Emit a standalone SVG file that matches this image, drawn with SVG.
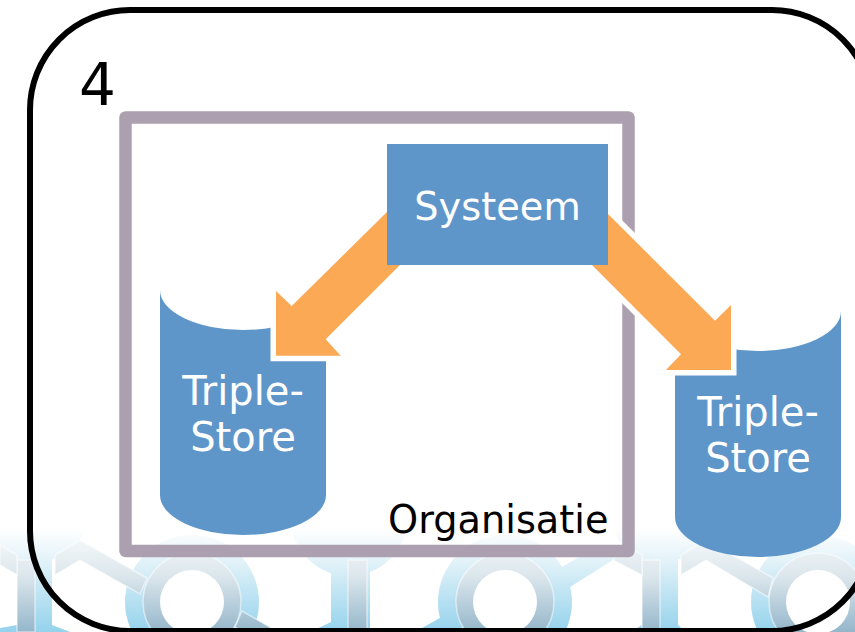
<svg xmlns="http://www.w3.org/2000/svg" width="855" height="632" viewBox="0 0 855 632">
<style>
.blue{fill:url(#gb)}
.grey{fill:url(#gg);stroke:#fff;stroke-opacity:.5;stroke-width:1.5}
.hole{fill:#fff}
.cyl{fill:#5F96CA}
.top{fill:#fff}
.arrow{fill:#FCA955}
.halo{fill:#fff;stroke:#fff;stroke-width:11;stroke-linejoin:miter;stroke-miterlimit:10}
text{font-family:"DejaVu Sans",Verdana,sans-serif;font-size:38.300px}
.w{fill:#fff;text-anchor:middle}
.s{font-size:40px}
.k{fill:#000}
</style>
<defs>
<linearGradient id="gb" gradientUnits="userSpaceOnUse" x1="0" y1="528" x2="0" y2="632">
<stop offset="0" stop-color="#fff"/><stop offset=".35" stop-color="#dff1f8"/><stop offset="1" stop-color="#94d2ec"/>
</linearGradient>
<linearGradient id="gg" gradientUnits="userSpaceOnUse" x1="0" y1="540" x2="0" y2="632">
<stop offset="0" stop-color="#f3f7f9"/><stop offset=".4" stop-color="#dbe6ec"/><stop offset="1" stop-color="#94b6ca"/>
</linearGradient>
<filter id="soft" x="0" y="0" width="1" height="1"><feGaussianBlur stdDeviation=".7"/></filter>
</defs>
<g id="logo" filter="url(#soft)">
<circle class="blue" cx="36" cy="508" r="54"/>
<circle class="blue" cx="349" cy="518" r="58"/>
<circle class="blue" cx="662" cy="508" r="54"/>
<circle class="blue" cx="192" cy="602" r="67"/>
<circle class="blue" cx="505" cy="602" r="67"/>
<circle class="blue" cx="818" cy="602" r="67"/>
<path class="blue" d="M35 555H52V625L70 632H0V628L17 625V555Z"/>
<path class="blue" d="M331 560H370V632H310L331 622Z"/>
<path class="blue" d="M660 555H678V625L686 632H630L642 625V555Z"/>
<path class="blue" d="M548 575L600 545L640 545L640 573L613 560L570 587Z"/>
<path class="blue" d="M415 632L445 615L460 632Z"/>
<path class="blue" d="M235 620L282 632H245Z"/>
<path class="grey" d="M17 560H35V632H17Z"/>
<path class="grey" d="M17 575L0 565V545L17 555Z"/>
<path class="grey" d="M348 560H367V632H348Z"/>
<path class="grey" d="M642 560H660V632H642Z"/>
<path class="grey" d="M642 575L613 560L625 545L642 555Z"/>
<path class="grey" d="M147 578L80 540L55 555V575L80 560L140 594Z"/>
<path class="grey" d="M773 578L706 540L681 555V575L706 560L768 597Z"/>
<path class="grey" d="M242 611L285 636H250L235 627Z"/>
<path class="grey" d="M460 632L470 618L478 632Z"/>
<circle class="grey" cx="192" cy="602" r="49"/>
<circle class="grey" cx="505" cy="602" r="49"/>
<circle class="grey" cx="818" cy="602" r="49"/>
<circle class="hole" cx="192" cy="602" r="32"/>
<circle class="hole" cx="505" cy="602" r="32"/>
<circle class="hole" cx="818" cy="602" r="32"/>
</g>
<g id="panel">
<rect x="30" y="10" width="842" height="621" rx="100" ry="100" fill="none" stroke="#000" stroke-width="6"/>
<text class="k" x="79" y="105" style="font-size:58px">4</text>
</g>
<g id="organisatie">
<rect x="125.500" y="117.500" width="503" height="433.500" fill="none" stroke="#ACA0B0" stroke-width="12.500" stroke-linejoin="round"/>
<text class="k" x="388" y="533">Organisatie</text>
</g>
<g id="store-left">
<path class="cyl" d="M160 290V495A83 40 0 0 0 326 495V290Z"/>
<ellipse class="top" cx="243" cy="290" rx="83" ry="40"/>
<text class="w s" x="243" y="405">Triple-</text>
<text class="w s" x="243" y="451">Store</text>
</g>
<g id="store-right">
<path class="cyl" d="M675 311V517A83 40 0 0 0 841 517V311Z"/>
<ellipse class="top" cx="758" cy="311" rx="83" ry="40"/>
<text class="w s" x="758" y="426">Triple-</text>
<text class="w s" x="758" y="472">Store</text>
</g>
<g id="connectors">
<path class="halo" d="M387 212L291.700 306L276 291V355.700H340.700L325.700 339.300L400 265Z"/>
<path class="halo" d="M608 214L715 320.700L731 305V370H666L681 354.300L592 265Z"/>
<path class="arrow" d="M387 212L291.700 306L276 291V355.700H340.700L325.700 339.300L400 265Z"/>
<path class="arrow" d="M608 214L715 320.700L731 305V370H666L681 354.300L592 265Z"/>
</g>
<g id="systeem">
<rect x="387" y="144" width="221" height="121" fill="#5F96CA"/>
<text class="w" x="497.500" y="220">Systeem</text>
</g>
</svg>
